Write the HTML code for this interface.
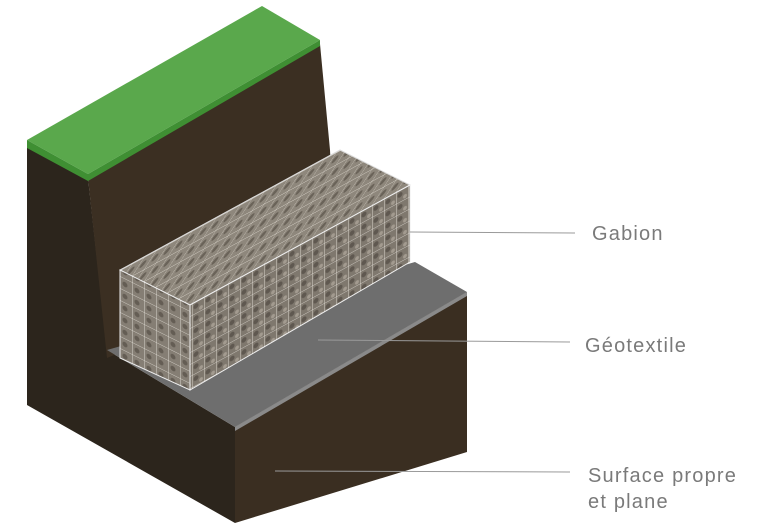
<!DOCTYPE html>
<html><head><style>
html,body{margin:0;padding:0;background:#fff;width:768px;height:528px;overflow:hidden}
.t{position:absolute;font-family:"Liberation Sans",sans-serif;color:#7a7a7a;font-size:20px;letter-spacing:1.2px}
</style></head><body>
<svg width="768" height="528" style="position:absolute;left:0;top:0">
<defs>
<pattern id="pf" width="12" height="12" patternUnits="userSpaceOnUse" patternTransform="skewY(-28.6)">
<rect width="12" height="12" fill="#7f786e"/>
<circle cx="4" cy="5" r="2.5" fill="#5f5850"/><circle cx="9" cy="9" r="2" fill="#a39b90"/>
<path d="M0 0V12M0 0H12" stroke="#e8e4dc" stroke-width="0.8"/>
</pattern>
<pattern id="pl" width="12" height="12" patternUnits="userSpaceOnUse" patternTransform="skewY(26.6)">
<rect width="12" height="12" fill="#857e74"/>
<circle cx="5" cy="6" r="2.5" fill="#645d54"/>
<path d="M0 0V12M0 0H12" stroke="#e8e4dc" stroke-width="0.8"/>
</pattern>
<pattern id="pt" width="12" height="12" patternUnits="userSpaceOnUse" patternTransform="skewY(-28.6) skewX(-45)">
<rect width="12" height="12" fill="#8e877c"/>
<circle cx="5" cy="6" r="2.5" fill="#6a6359"/>
<path d="M0 0V12M0 0H12" stroke="#e0dbd2" stroke-width="0.8"/>
</pattern>
</defs>
<polygon points="27,146 88,178 107,350 235,427 235,523 27,405" fill="#2c251c"/>
<polygon points="88,178 320,44 330,150 336,262 107,358" fill="#3b2f22"/>
<polygon points="235,427 467,292 467,452 235,523" fill="#3a2e21"/>
<polygon points="27,140 262,6 320,40 88,174" fill="#5aa84c"/>
<polygon points="88,174 320,40 320,46 88,181" fill="#3f8f33"/>
<polygon points="27,140 88,174 88,181 27,148" fill="#3f8f33"/>
<polygon points="107,350 415,262 467,292 235,427" fill="#6e6e6e"/>
<polygon points="235,427 467,292 467,296 235,431" fill="#8a8a8a"/>
<polygon points="120,270 190,305 410,185 340,150" fill="url(#pt)" stroke="#ddd" stroke-width="1"/>
<polygon points="120,270 190,305 190,390 120,358" fill="url(#pl)" stroke="#eee" stroke-width="1"/>
<polygon points="190,305 410,185 410,262 190,390" fill="url(#pf)" stroke="#eee" stroke-width="1"/>
<line x1="410" y1="232" x2="575" y2="233" stroke="#9a9a9a" stroke-width="1"/>
<line x1="318" y1="340" x2="570" y2="342" stroke="#9a9a9a" stroke-width="1"/>
<line x1="275" y1="471" x2="570" y2="472" stroke="#9a9a9a" stroke-width="1"/>
</svg>
<div class="t" style="left:592px;top:223px">Gabion</div>
<div class="t" style="left:585px;top:335px">Géotextile</div>
<div class="t" style="left:588px;top:463px;line-height:26px">Surface propre<br>et plane</div>
</body></html>
